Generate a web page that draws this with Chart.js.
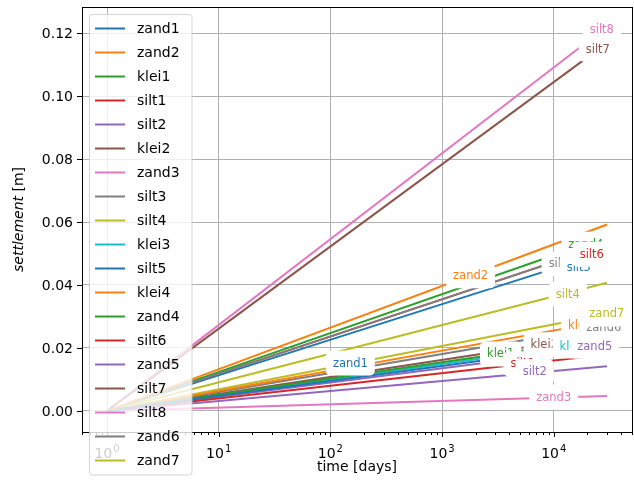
<!DOCTYPE html>
<html>
<head>
<meta charset="utf-8">
<script src="https://cdn.jsdelivr.net/npm/chart.js@4.4.1/dist/chart.umd.min.js"></script>
<style>
  html, body { margin: 0; padding: 0; background: #fff; }
  canvas { display: block; }
</style>
</head>
<body>
<canvas id="settlementChart" width="634" height="488"></canvas>
<script>
// 🔹 LAYERS (plot order = legend order)
const layers = ["zand1", "zand2", "klei1", "silt1", "silt2", "klei2", "zand3", "silt3", "silt4", "klei3",
                "silt5", "klei4", "zand4", "silt6", "zand5", "silt7", "silt8", "zand6", "zand7"];

// time [days] of first and last sample
const times = [1, 30000];

// settlement [m] at t = 1 is 0, this is the value at the last time
const finalSettlement = [0.0213, 0.0592, 0.0231, 0.0179, 0.0142, 0.0242, 0.0047, 0.0529, 0.0407, 0.0223,
                         0.0506, 0.0286, 0.0553, 0.0529, 0.0202, 0.1169, 0.1221, 0.0270, 0.0308];

// inline labels: where each name sits (time, settlement)
const labelTime = [151, 1800, 3350, 5270, 6760, 8220, 10000, 11550, 13360, 14960,
                   16750, 17830, 19360, 21900, 23300, 24800, 26950, 28050, 29870];
const labelSettlement = [0.0152, 0.0429, 0.0181, 0.0149, 0.0124, 0.0210, 0.0044, 0.0467, 0.0371, 0.0206,
                         0.0454, 0.0271, 0.0529, 0.0498, 0.0206, 0.1149, 0.1213, 0.0264, 0.0308];

// 🔹 AXES
const xMajorTicks = [1, 10, 100, 1000, 10000];
const xExponents = ["0", "1", "2", "3", "4"];
const yTicks = [0, 0.02, 0.04, 0.06, 0.08, 0.10, 0.12];

let xMinorTicks = [];
[0.1, 1, 10, 100, 1000, 10000].forEach(d => {
    for (let k = 2; k <= 9; k++) xMinorTicks.push(k * d);
});

const palette = ["#1f77b4", "#ff7f0e", "#2ca02c", "#d62728", "#9467bd",
                 "#8c564b", "#e377c2", "#7f7f7f", "#bcbd22", "#17becf"];

const FONT = '"DejaVu Sans", sans-serif';

const datasets = layers.map((name, i) => ({
    label: name,
    data: times.map((t, j) => ({ x: t, y: j === 0 ? 0 : finalSettlement[i] })),
    borderColor: palette[i % 10],
    backgroundColor: palette[i % 10],
    borderWidth: 2,
    pointRadius: 0,
    fill: false,
    tension: 0
}));


// 🔹 EXTRA DRAWING (inline labels, ticks, titles, frame, legend)
const decor = {
    id: "decor",

    afterDatasetsDraw(chart) {
        const { ctx, scales: { x, y } } = chart;
        ctx.save();
        ctx.font = "11.5px " + FONT;
        ctx.textAlign = "center";
        ctx.textBaseline = "middle";
        layers.forEach((name, i) => {
            const px = x.getPixelForValue(labelTime[i]);
            const py = y.getPixelForValue(labelSettlement[i]);
            const w = ctx.measureText(name).width + 14;
            const h = 25;
            ctx.fillStyle = "#fff";
            ctx.beginPath();
            ctx.roundRect(px - w / 2, py - h / 2, w, h, 5);
            ctx.fill();
            ctx.fillStyle = palette[i % 10];
            ctx.fillText(name, px, py + 0.5);
        });
        ctx.restore();
    },

    afterDraw(chart) {
        const { ctx, chartArea: a, scales: { x, y } } = chart;
        const L = Math.round(a.left), R = Math.round(a.right);
        const T = Math.round(a.top), B = Math.round(a.bottom);
        ctx.save();

        // tick marks
        ctx.strokeStyle = "#000";
        ctx.lineWidth = 1;
        ctx.beginPath();
        xMajorTicks.forEach(v => {
            const px = Math.round(x.getPixelForValue(v)) + 0.5;
            ctx.moveTo(px, B); ctx.lineTo(px, B + 5);
        });
        xMinorTicks.forEach(v => {
            if (v < x.min || v > x.max) return;
            const px = Math.round(x.getPixelForValue(v)) + 0.5;
            ctx.moveTo(px, B); ctx.lineTo(px, B + 3);
        });
        yTicks.forEach(v => {
            const py = Math.round(y.getPixelForValue(v)) + 0.5;
            ctx.moveTo(L - 5, py); ctx.lineTo(L, py);
        });
        ctx.stroke();

        // tick labels
        ctx.fillStyle = "#000";
        ctx.font = "14px " + FONT;
        ctx.textAlign = "right";
        ctx.textBaseline = "middle";
        yTicks.forEach(v => {
            ctx.fillText(v.toFixed(2), L - 9, y.getPixelForValue(v) + 1);
        });

        ctx.textAlign = "left";
        ctx.textBaseline = "alphabetic";
        xMajorTicks.forEach((v, i) => {
            const px = x.getPixelForValue(v);
            ctx.font = "14px " + FONT;
            const w1 = ctx.measureText("10").width;
            ctx.font = "10px " + FONT;
            const w2 = ctx.measureText(xExponents[i]).width;
            const sx = px - (w1 + w2 + 1) / 2;
            ctx.font = "14px " + FONT;
            ctx.fillText("10", sx, 458);
            ctx.font = "10px " + FONT;
            ctx.fillText(xExponents[i], sx + w1 + 1, 452);
        });

        // axis titles
        ctx.font = "14px " + FONT;
        ctx.textAlign = "center";
        ctx.textBaseline = "middle";
        ctx.fillText("time [days]", (a.left + a.right) / 2, 467);

        ctx.save();
        ctx.translate(19, (a.top + a.bottom) / 2);
        ctx.rotate(-Math.PI / 2);
        ctx.textAlign = "left";
        ctx.font = "italic 14px " + FONT;
        const wI = ctx.measureText("settlement").width;
        ctx.font = "14px " + FONT;
        const wN = ctx.measureText(" [m]").width;
        const sx = -(wI + wN) / 2;
        ctx.font = "italic 14px " + FONT;
        ctx.fillText("settlement", sx, 0);
        ctx.font = "14px " + FONT;
        ctx.fillText(" [m]", sx + wI, 0);
        ctx.restore();

        // frame
        ctx.strokeStyle = "#000";
        ctx.strokeRect(L + 0.5, T + 0.5, R - L, B - T);

        // legend
        const lx = 89.5, ly = 14.5, lw = 102.5, lh = 460.5;
        ctx.beginPath();
        ctx.roundRect(lx, ly, lw, lh, 3);
        ctx.fillStyle = "rgba(255,255,255,0.8)";
        ctx.fill();
        ctx.strokeStyle = "rgba(204,204,204,0.8)";
        ctx.stroke();

        ctx.font = "14px " + FONT;
        ctx.textAlign = "left";
        ctx.textBaseline = "middle";
        ctx.lineWidth = 2;
        layers.forEach((name, i) => {
            const ry = 28.5 + i * 24;
            ctx.strokeStyle = palette[i % 10];
            ctx.beginPath();
            ctx.moveTo(95, ry); ctx.lineTo(125, ry);
            ctx.stroke();
            ctx.fillStyle = "#000";
            ctx.fillText(name, 137, ry + 1);
        });

        ctx.restore();
    }
};


// 🔹 CHART.JS
const ctx = document.getElementById("settlementChart").getContext("2d");

const chart = new Chart(ctx, {
    type: "line",
    data: { datasets: datasets },
    plugins: [decor],
    options: {
        responsive: false,
        devicePixelRatio: 1,
        animation: false,
        layout: { padding: { left: 0, top: 7, right: 2, bottom: 0 } },
        plugins: {
            legend: { display: false },
            tooltip: { enabled: false }
        },
        scales: {
            x: {
                type: "logarithmic",
                min: 0.597,
                max: 50200,
                afterBuildTicks: s => { s.ticks = xMajorTicks.map(v => ({ value: v })); },
                afterFit: s => { s.height = 56; },
                ticks: { display: false },
                grid: { color: "#b0b0b0", lineWidth: 1, drawTicks: false },
                border: { display: false }
            },
            y: {
                type: "linear",
                min: -0.0067,
                max: 0.1283,
                afterBuildTicks: s => { s.ticks = yTicks.map(v => ({ value: v })); },
                afterFit: s => { s.width = 82; },
                ticks: { display: false },
                grid: { color: "#b0b0b0", lineWidth: 1, drawTicks: false },
                border: { display: false }
            }
        }
    }
});
</script>
</body>
</html>
